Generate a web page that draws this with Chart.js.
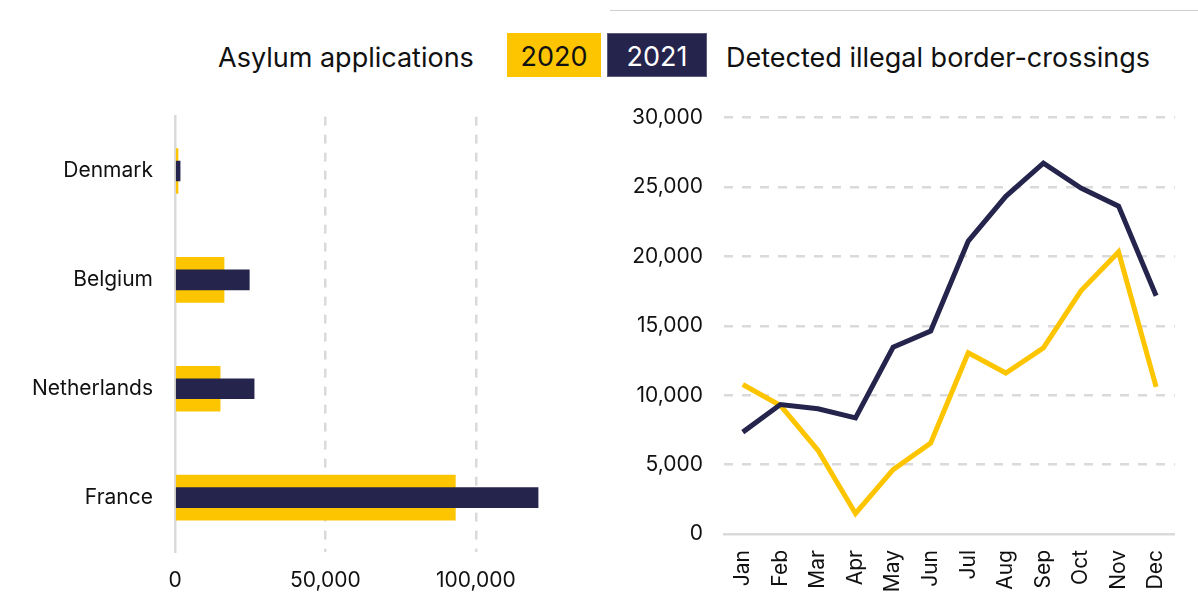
<!DOCTYPE html>
<html>
<head>
<meta charset="utf-8">
<script src="https://cdn.jsdelivr.net/npm/chart.js@4"></script>
<style>
  html, body { margin: 0; padding: 0; background: #fff; }
  body { width: 1198px; height: 608px; position: relative; overflow: hidden; font-family: Inter, sans-serif; color: #111; }
  .topline { position: absolute; left: 610px; top: 10px; width: 588px; height: 1px; background: #cfcfcf; }
  .title { position: absolute; top: 36px; height: 44px; line-height: 44px; font-size: 27px; white-space: nowrap; }
  .key { position: absolute; top: 33px; height: 44px; line-height: 48px; font-size: 27px; text-align: center; box-sizing: border-box; }
  .canvas-box { position: absolute; }
</style>
</head>
<body>
<div class="topline"></div>
<div class="title" style="left:218px">Asylum applications</div>
<div class="key" style="left:507px;width:94px;background:#fdc500;color:#111">2020</div>
<div class="key" style="left:607px;width:100px;background:#24244c;color:#fff;border:1px solid #5a5a7a;line-height:46px">2021</div>
<div class="title" style="left:726px">Detected illegal border-crossings</div>

<div class="canvas-box" style="left:0;top:82px;width:590px;height:526px"><canvas id="asylumCanvas"></canvas></div>
<div class="canvas-box" style="left:602px;top:84px;width:596px;height:524px"><canvas id="crossingsCanvas"></canvas></div>

<script>
// ---------------- data ----------------
const countries = ['Denmark', 'Belgium', 'Netherlands', 'France'];
const asylum2020 = [1000, 16300, 15000, 93200];
const asylum2021 = [1700, 24700, 26300, 120700];

const months = ['Jan', 'Feb', 'Mar', 'Apr', 'May', 'Jun', 'Jul', 'Aug', 'Sep', 'Oct', 'Nov', 'Dec'];
const crossings2020 = [10770, 9260, 6030, 1480, 4640, 6550, 13050, 11600, 13410, 17520, 20320, 10600];
const crossings2021 = [7340, 9330, 9020, 8370, 13450, 14620, 21100, 24330, 26720, 24930, 23620, 17160];

const asylumTicks = [0, 50000, 100000];

const yellow = '#fdc500';
const navy = '#24244c';
const gridGrey = '#dadada';
const textColor = '#111';
const tickFont = { family: 'Inter, sans-serif', size: 21 };

Chart.defaults.font.family = 'Inter, sans-serif';
Chart.defaults.color = textColor;

// ---------------- asylum applications (bars) ----------------
new Chart(document.getElementById('asylumCanvas'), {
    type: 'bar',
    data: {
        labels: countries,
        datasets: [
            { label: '2021', data: asylum2021, backgroundColor: navy, barThickness: 20, grouped: false, order: 0 },
            { label: '2020', data: asylum2020, backgroundColor: yellow, barThickness: 45, grouped: false, order: 1 }
        ]
    },
    options: {
        indexAxis: 'y',
        responsive: true,
        maintainAspectRatio: false,
        animation: false,
        layout: { padding: { top: 15, right: 39, bottom: 0, left: 0 } },
        plugins: { legend: { display: false }, tooltip: { enabled: false } },
        scales: {
            x: {
                min: 0,
                max: 125000,
                afterBuildTicks: axis => { axis.ticks = asylumTicks.map(v => ({ value: v })); },
                afterFit: axis => { axis.height = 56; },
                ticks: {
                    font: tickFont,
                    color: textColor,
                    padding: 16,
                    maxRotation: 0,
                    callback: v => v.toLocaleString('en-US')
                },
                grid: {
                    drawTicks: false,
                    lineWidth: 2.5,
                    color: ctx => (ctx.tick && ctx.tick.value === 0) ? 'rgba(0,0,0,0)' : gridGrey
                },
                border: { display: false, dash: [9, 9] }
            },
            y: {
                afterFit: axis => { axis.width = 175; },
                ticks: { font: tickFont, color: textColor, padding: 22 },
                grid: { display: false, drawTicks: false },
                border: { display: true, color: gridGrey, width: 2.5 }
            }
        }
    }
});

// ---------------- detected illegal border-crossings (lines) ----------------
new Chart(document.getElementById('crossingsCanvas'), {
    type: 'line',
    data: {
        labels: months,
        datasets: [
            { label: '2021', data: crossings2021, borderColor: navy, borderWidth: 5, pointRadius: 0, tension: 0, order: 0 },
            { label: '2020', data: crossings2020, borderColor: yellow, borderWidth: 5, pointRadius: 0, tension: 0, order: 1 }
        ]
    },
    options: {
        responsive: true,
        maintainAspectRatio: false,
        animation: false,
        layout: { padding: { top: 21, right: 16, bottom: 0, left: 0 } },
        plugins: { legend: { display: false }, tooltip: { enabled: false } },
        scales: {
            x: {
                offset: true,
                afterFit: axis => { axis.height = 74; },
                ticks: { font: tickFont, color: textColor, padding: 16, minRotation: 90, maxRotation: 90, autoSkip: false },
                grid: { display: false, drawTicks: false },
                border: { display: true, color: gridGrey, width: 2.5 }
            },
            y: {
                min: 0,
                max: 30000,
                afterFit: axis => { axis.width = 122; },
                ticks: {
                    font: tickFont,
                    color: textColor,
                    padding: 21,
                    stepSize: 5000,
                    callback: v => v.toLocaleString('en-US')
                },
                grid: {
                    drawTicks: false,
                    lineWidth: 2.5,
                    color: ctx => (ctx.tick && ctx.tick.value === 0) ? 'rgba(0,0,0,0)' : gridGrey
                },
                border: { display: false, dash: [9, 9] }
            }
        }
    }
});
</script>
</body>
</html>
